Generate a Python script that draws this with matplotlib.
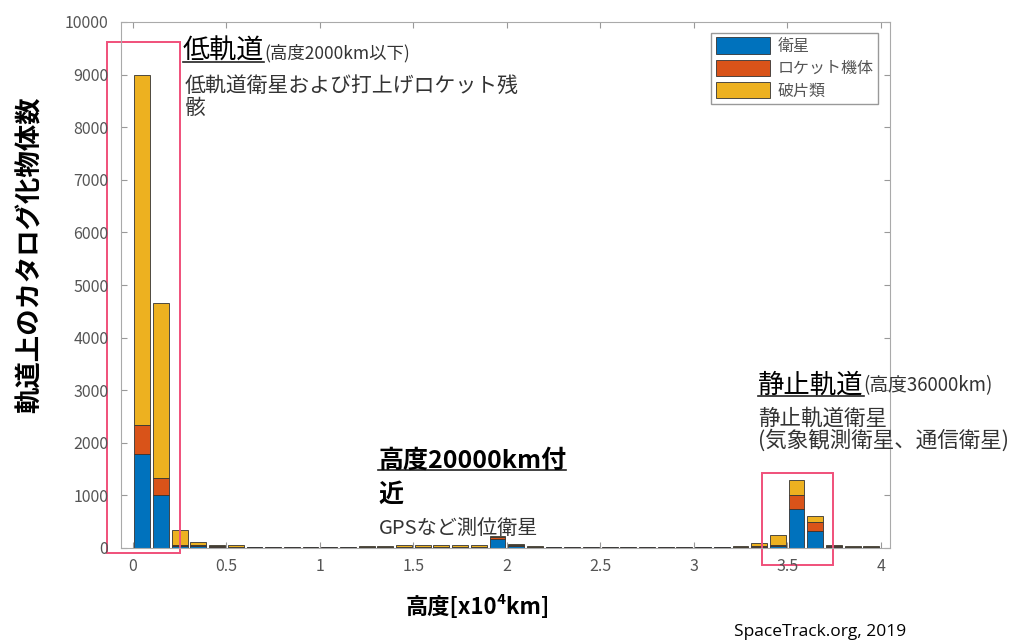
import numpy as np
import matplotlib.pyplot as plt
from matplotlib.patches import Rectangle
from matplotlib.lines import Line2D

plt.rcParams['font.family'] = ['Noto Sans CJK JP', 'DejaVu Sans']

# altitude bins [x10^4 km], 1000 km wide
altitude = np.arange(0.05, 4.0, 0.1)
satellites = [1780, 1000, 30, 30, 20, 15, 10, 8, 8, 8,
              8, 8, 10, 12, 15, 15, 15, 15, 18, 180,
              40, 15, 10, 8, 8, 8, 8, 8, 8, 8,
              10, 10, 12, 25, 30, 750, 330, 20, 15, 12]
rocket_bodies = [560, 330, 30, 20, 10, 8, 6, 5, 5, 5,
                 5, 5, 6, 6, 8, 8, 8, 8, 10, 20,
                 20, 10, 6, 5, 5, 5, 5, 5, 5, 5,
                 6, 6, 8, 15, 20, 250, 160, 15, 10, 8]
debris = [6660, 3330, 280, 60, 30, 25, 12, 10, 10, 12,
          12, 12, 15, 25, 30, 30, 35, 35, 35, 30,
          10, 15, 12, 10, 10, 12, 15, 15, 12, 10,
          12, 12, 15, 50, 200, 290, 110, 20, 15, 12]
labels = ['衛星', 'ロケット機体', '破片類']
colors = ['#0072BD', '#D95319', '#EDB120']

W, H = 1022, 642
fig = plt.figure(figsize=(W / 100, H / 100), dpi=100)
ax = fig.add_axes([121 / W, 1 - 548 / H, (890 - 121) / W, (548 - 22) / H])


def px(x, y):
    return x / W, 1 - y / H


bottom = np.zeros(len(altitude))
for vals, lab, c in zip([satellites, rocket_bodies, debris], labels, colors):
    ax.bar(altitude, vals, 0.085, bottom=bottom, color=c, edgecolor='#333333',
           linewidth=0.6, label=lab)
    bottom += np.array(vals)

ax.set_xlim(-0.064, 4.05)
ax.set_ylim(0, 10000)
ax.set_xticks([0, 0.5, 1, 1.5, 2, 2.5, 3, 3.5, 4])
ax.set_xticklabels(['0', '0.5', '1', '1.5', '2', '2.5', '3', '3.5', '4'])
ax.set_yticks(np.arange(0, 10001, 1000))
ax.tick_params(direction='in', length=4, colors='#999999', labelcolor='#555555',
               labelsize=11.5, top=True, right=True)
ax.tick_params(axis='y', pad=9)
ax.tick_params(axis='x', pad=7)
for s in ax.spines.values():
    s.set_color('#aaaaaa')
    s.set_linewidth(0.8)

ax.set_ylabel('軌道上のカタログ化物体数', fontsize=19, fontweight='bold')
ax.yaxis.set_label_coords(-0.101, 0.557)
ax.set_xlabel('高度[x10⁴km]', fontsize=16, fontweight='bold')
ax.xaxis.set_label_coords(0.464, -0.089)

leg = ax.legend(loc='upper right', bbox_to_anchor=(0.985, 0.98), fontsize=11.5,
                handlelength=3.4, handleheight=1.2, fancybox=False,
                edgecolor='#999999', framealpha=1, borderpad=0.3, labelspacing=0.3,
                handletextpad=0.45, borderaxespad=0.0)
for t in leg.get_texts():
    t.set_color('#555555')

box_col = '#f0507a'
ax.add_patch(Rectangle((-0.139, -95), 0.39, 9715, fill=False, edgecolor=box_col,
                       lw=1.4, clip_on=False))
ax.add_patch(Rectangle((3.364, -323), 0.379, 1749, fill=False, edgecolor=box_col,
                       lw=1.4, clip_on=False))

under = []
t1 = fig.text(*px(183, 38), '低軌道', fontsize=19.5, va='top', ha='left')
under.append(t1)
ax.annotate('(高度2000km以下)', xy=(1, 0.1), xycoords=t1, fontsize=12.5,
            va='bottom', ha='left', color='#333333')
fig.text(*px(185, 75), '低軌道衛星および打上げロケット残\n骸', fontsize=15,
         va='top', ha='left', color='#333333', linespacing=1.0)

t2 = fig.text(*px(378, 449), '高度20000km付', fontsize=18, fontweight='bold',
              va='top', ha='left')
under.append(t2)
fig.text(*px(378, 483), '近', fontsize=18, fontweight='bold', va='top', ha='left')
fig.text(*px(379, 518), 'GPSなど測位衛星', fontsize=14.5, va='top', ha='left',
         color='#333333')

t3 = fig.text(*px(758, 372), '静止軌道', fontsize=19, va='top', ha='left')
under.append(t3)
ax.annotate('(高度36000km)', xy=(1, 0.1), xycoords=t3, fontsize=13.5,
            va='bottom', ha='left', color='#333333')
fig.text(*px(758, 408), '静止軌道衛星\n(気象観測衛星、通信衛星)', fontsize=15.5,
         va='top', ha='left', color='#333333', linespacing=0.95)

fig.text(*px(820, 632), 'SpaceTrack.org, 2019', fontsize=12.5, va='center',
         ha='center', family=['Open Sans', 'DejaVu Sans'])

fig.canvas.draw()
r = fig.canvas.get_renderer()
for t in under:
    bb = t.get_window_extent(r)
    y = (bb.y0 + 3) / H
    fig.add_artist(Line2D([bb.x0 / W, bb.x1 / W], [y, y], color='#222222', lw=1.2))

fig.savefig('out.png', dpi=100)
